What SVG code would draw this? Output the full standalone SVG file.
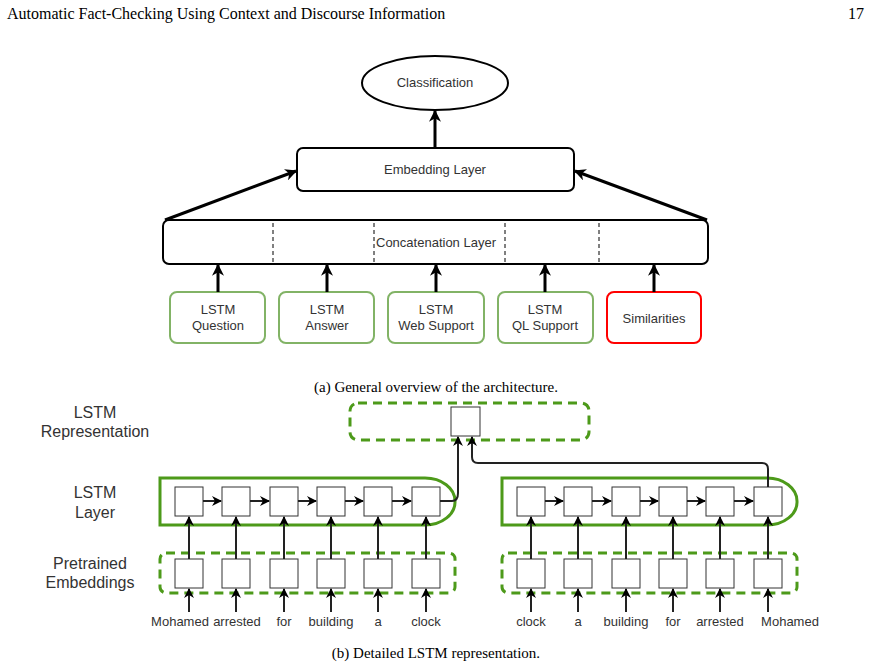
<svg xmlns="http://www.w3.org/2000/svg" width="871" height="668" viewBox="0 0 871 668">
<defs>
<style>
.s{font-family:"Liberation Sans",Arial,sans-serif;font-size:13px;fill:#333;text-anchor:middle}
.l{font-family:"Liberation Sans",Arial,sans-serif;font-size:16px;fill:#333;text-anchor:middle}
.w{font-family:"Liberation Sans",Arial,sans-serif;font-size:13px;fill:#333;text-anchor:middle}
.c{font-family:"Liberation Serif","Times New Roman",serif;font-size:15px;fill:#000;text-anchor:middle}
.n{fill:#fff;stroke:#000;stroke-width:2}
.g{fill:#fff;stroke:#82b366;stroke-width:2}
.cell{fill:#fff;stroke:#333;stroke-width:1}
.dg{fill:none;stroke:#4d9a1a;stroke-width:3;stroke-dasharray:9,6}
.sg{fill:none;stroke:#4d9a1a;stroke-width:3}
.a{stroke:#000;stroke-width:3;fill:none;marker-end:url(#ah)}
.b{stroke:#222;stroke-width:2;fill:none;marker-end:url(#bh)}
</style>
<marker id="ah" viewBox="0 0 10 10" refX="9" refY="5" markerWidth="4" markerHeight="4" orient="auto"><path d="M0,0L10,5L0,10L3,5z" fill="#000"/></marker>
<marker id="bh" viewBox="0 0 10 10" refX="9" refY="5" markerWidth="5" markerHeight="5" orient="auto"><path d="M0,0L10,5L0,10L3,5z" fill="#000"/></marker>
</defs>
<rect width="871" height="668" fill="#fff"/>
<text x="7" y="19" style="font-family:'Liberation Serif',serif;font-size:16px">Automatic Fact-Checking Using Context and Discourse Information</text>
<text x="864" y="19" style="font-family:'Liberation Serif',serif;font-size:16px;text-anchor:end">17</text>

<g id="classification"><ellipse cx="435" cy="83" rx="73" ry="27" class="n"/><text x="435" y="87" class="s">Classification</text></g>
<g id="embedding"><rect x="297" y="148" width="277" height="43" rx="6" class="n"/><text x="435" y="174" class="s">Embedding Layer</text></g>
<g id="concat"><rect x="163" y="220" width="545" height="44" rx="6" class="n"/>
<g stroke="#000" stroke-dasharray="4,3"><line x1="273" y1="223" x2="273" y2="262"/><line x1="374" y1="223" x2="374" y2="262"/><line x1="505" y1="223" x2="505" y2="262"/><line x1="599" y1="223" x2="599" y2="262"/></g>
<text x="436" y="247" class="s">Concatenation Layer</text></g>
<g id="q"><rect x="170" y="292" width="95" height="51" rx="7" class="g"/><text x="218" y="314" class="s">LSTM</text><text x="218" y="330" class="s">Question</text></g>
<g id="ans"><rect x="279" y="292" width="95" height="51" rx="7" class="g"/><text x="327" y="314" class="s">LSTM</text><text x="327" y="330" class="s">Answer</text></g>
<g id="web"><rect x="388" y="292" width="96" height="51" rx="7" class="g"/><text x="436" y="314" class="s">LSTM</text><text x="436" y="330" class="s">Web Support</text></g>
<g id="ql"><rect x="498" y="292" width="95" height="51" rx="7" class="g"/><text x="545" y="314" class="s">LSTM</text><text x="545" y="330" class="s">QL Support</text></g>
<g id="sim"><rect x="607" y="292" width="94" height="51" rx="7" fill="#fff" stroke="#f00" stroke-width="2"/><text x="654" y="323" class="s">Similarities</text></g>

<g id="connectors-a">
<line x1="435" y1="148" x2="435" y2="111" class="a"/>
<line x1="165" y1="220" x2="296" y2="171" class="a"/>
<line x1="707" y1="220" x2="575" y2="171" class="a"/>
<line x1="218" y1="292" x2="218" y2="265" class="a"/>
<line x1="327" y1="292" x2="327" y2="265" class="a"/>
<line x1="436" y1="292" x2="436" y2="265" class="a"/>
<line x1="545" y1="292" x2="545" y2="265" class="a"/>
<line x1="654" y1="292" x2="654" y2="265" class="a"/>
</g>
<text x="436" y="392" class="c">(a) General overview of the architecture.</text>

<g id="labels">
<text x="95" y="418" class="l">LSTM</text><text x="95" y="437" class="l">Representation</text>
<text x="95" y="498" class="l">LSTM</text><text x="95" y="518" class="l">Layer</text>
<text x="90" y="569" class="l">Pretrained</text><text x="90" y="588" class="l">Embeddings</text>
</g>
<g id="rep"><rect x="350" y="403" width="239" height="37" rx="8" class="dg"/><rect x="451" y="407" width="29" height="29" class="cell"/></g>
<g id="lstm-left"><path d="M160,478H425A30,23 0 0 1 455,501A30,23 0 0 1 425,525H160Z" class="sg"/>
<rect x="175" y="487" width="28" height="29" class="cell"/><rect x="222" y="487" width="28" height="29" class="cell"/><rect x="270" y="487" width="28" height="29" class="cell"/><rect x="317" y="487" width="28" height="29" class="cell"/><rect x="364" y="487" width="28" height="29" class="cell"/><rect x="412" y="487" width="28" height="29" class="cell"/></g>
<g id="lstm-right"><path d="M502,478H767A30,23 0 0 1 797,501A30,23 0 0 1 767,525H502Z" class="sg"/>
<rect x="517" y="487" width="28" height="29" class="cell"/><rect x="564" y="487" width="28" height="29" class="cell"/><rect x="612" y="487" width="28" height="29" class="cell"/><rect x="659" y="487" width="28" height="29" class="cell"/><rect x="706" y="487" width="28" height="29" class="cell"/><rect x="754" y="487" width="28" height="29" class="cell"/></g>
<g id="emb-left"><rect x="160" y="553" width="295" height="40" rx="6" class="dg"/>
<rect x="175" y="559" width="28" height="29" class="cell"/><rect x="222" y="559" width="28" height="29" class="cell"/><rect x="270" y="559" width="28" height="29" class="cell"/><rect x="317" y="559" width="28" height="29" class="cell"/><rect x="364" y="559" width="28" height="29" class="cell"/><rect x="412" y="559" width="28" height="29" class="cell"/></g>
<g id="emb-right"><rect x="502" y="553" width="295" height="40" rx="6" class="dg"/>
<rect x="517" y="559" width="28" height="29" class="cell"/><rect x="564" y="559" width="28" height="29" class="cell"/><rect x="612" y="559" width="28" height="29" class="cell"/><rect x="659" y="559" width="28" height="29" class="cell"/><rect x="706" y="559" width="28" height="29" class="cell"/><rect x="754" y="559" width="28" height="29" class="cell"/></g>

<g id="connectors-b">
<path d="M203,501H221" class="b"/><path d="M250,501H269" class="b"/><path d="M298,501H316" class="b"/><path d="M345,501H363" class="b"/><path d="M392,501H411" class="b"/>
<path d="M545,501H563" class="b"/><path d="M592,501H611" class="b"/><path d="M640,501H658" class="b"/><path d="M687,501H705" class="b"/><path d="M734,501H753" class="b"/>
<path d="M189,559V517" class="b"/><path d="M236,559V517" class="b"/><path d="M284,559V517" class="b"/><path d="M331,559V517" class="b"/><path d="M378,559V517" class="b"/><path d="M426,559V517" class="b"/>
<path d="M531,559V517" class="b"/><path d="M578,559V517" class="b"/><path d="M626,559V517" class="b"/><path d="M673,559V517" class="b"/><path d="M720,559V517" class="b"/><path d="M768,559V517" class="b"/>
<path d="M189,612V589" class="b"/><path d="M236,612V589" class="b"/><path d="M284,612V589" class="b"/><path d="M331,612V589" class="b"/><path d="M378,612V589" class="b"/><path d="M426,612V589" class="b"/>
<path d="M531,612V589" class="b"/><path d="M578,612V589" class="b"/><path d="M626,612V589" class="b"/><path d="M673,612V589" class="b"/><path d="M720,612V589" class="b"/><path d="M768,612V589" class="b"/>
<path d="M440,501H452Q458,501 458,493V437" class="b"/>
<path d="M768,487V469Q768,463 762,463H478Q472,463 472,457V437" class="b"/>
</g>
<g id="words">
<text x="180" y="626" class="w">Mohamed</text><text x="237" y="626" class="w">arrested</text><text x="284" y="626" class="w">for</text><text x="331" y="626" class="w">building</text><text x="378" y="626" class="w">a</text><text x="426" y="626" class="w">clock</text>
<text x="531" y="626" class="w">clock</text><text x="578" y="626" class="w">a</text><text x="626" y="626" class="w">building</text><text x="673" y="626" class="w">for</text><text x="720" y="626" class="w">arrested</text><text x="790" y="626" class="w">Mohamed</text>
</g>
<text x="436" y="658" class="c">(b) Detailed LSTM representation.</text>
</svg>
